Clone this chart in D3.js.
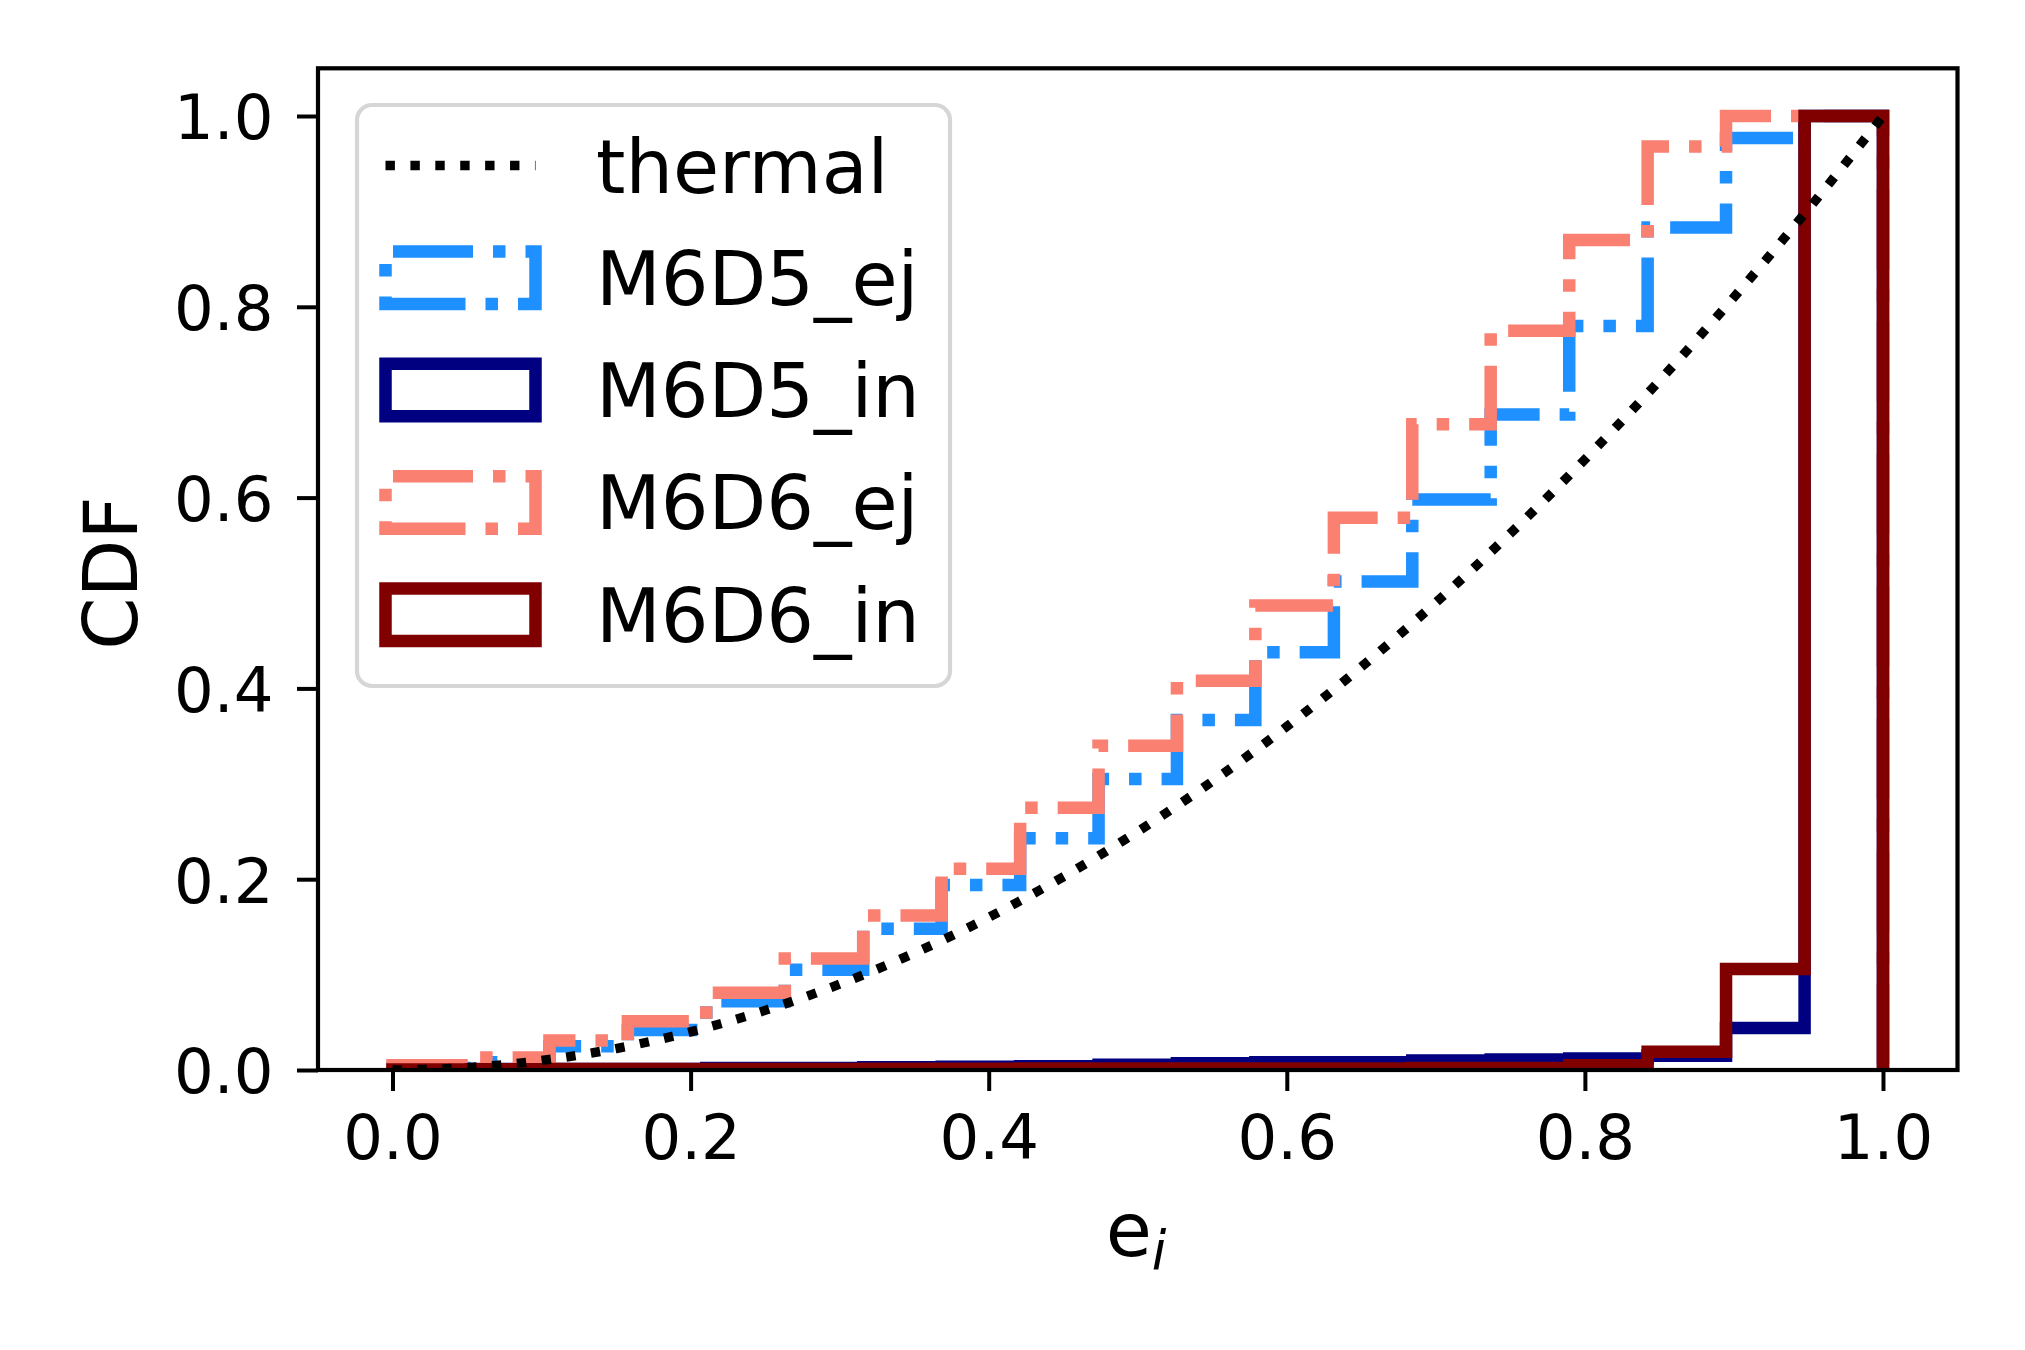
<!DOCTYPE html>
<html><head><meta charset="utf-8">
<script src="https://cdn.jsdelivr.net/npm/d3@7/dist/d3.min.js"></script>
<style>body{margin:0;background:#fff} svg text{font-family:"DejaVu Sans",sans-serif;fill:#000}</style>
</head><body>
<svg id="c" width="2025" height="1350"></svg>
<script>
// ---------- data ----------
const binEdges = [0, 0.0526, 0.1053, 0.1579, 0.2105, 0.2632, 0.3158, 0.3684, 0.4211, 0.4737,
                  0.5263, 0.5789, 0.6316, 0.6842, 0.7368, 0.7895, 0.8421, 0.8947, 0.9474, 1.0];
const m6d5_ej = [0.002, 0.008, 0.025, 0.042, 0.072, 0.105, 0.148, 0.194, 0.243, 0.305,
                 0.367, 0.438, 0.512, 0.598, 0.687, 0.780, 0.883, 0.977, 1.0];
const m6d5_in = [0.0005, 0.001, 0.001, 0.001, 0.002, 0.002, 0.003, 0.0035, 0.004, 0.0055,
                 0.007, 0.008, 0.008, 0.010, 0.011, 0.012, 0.015, 0.044, 1.0];
const m6d6_ej = [0.005, 0.013, 0.031, 0.051, 0.081, 0.117, 0.162, 0.211, 0.275, 0.340,
                 0.408, 0.487, 0.579, 0.677, 0.775, 0.870, 0.968, 1.0, 1.0];
const m6d6_in = [0.0005, 0.0008, 0.001, 0.001, 0.001, 0.001, 0.0012, 0.0014, 0.0015, 0.0015,
                 0.0015, 0.0015, 0.0015, 0.002, 0.002, 0.005, 0.019, 0.106, 1.0];
const thermalE   = [0, 0.05, 0.10, 0.15, 0.20, 0.25, 0.30, 0.35, 0.40, 0.45, 0.50,
                    0.55, 0.60, 0.65, 0.70, 0.75, 0.80, 0.85, 0.90, 0.95, 1.0];
const thermalCdf = [0, 0.0025, 0.010, 0.0225, 0.040, 0.0625, 0.090, 0.1225, 0.160, 0.2025, 0.250,
                    0.3025, 0.360, 0.4225, 0.490, 0.5625, 0.640, 0.7225, 0.810, 0.9025, 1.0];
const xTicks = [0, 0.2, 0.4, 0.6, 0.8, 1.0];
const yTicks = [0, 0.2, 0.4, 0.6, 0.8, 1.0];
const legendLabels = ["thermal", "M6D5_ej", "M6D5_in", "M6D6_ej", "M6D6_in"];

// ---------- layout ----------
const L = 318, R = 1957.5, T = 68.3, B = 1070;
const svg = d3.select("#c");
const x = d3.scaleLinear().domain([-0.05, 1.05]).range([L, R]);
const y = d3.scaleLinear().domain([0, 1.05]).range([B, T]);

svg.append("defs").append("clipPath").attr("id", "clip")
  .append("rect").attr("x", L).attr("y", T).attr("width", R - L).attr("height", B - T);

const HLW = 12.5;
const dashDot = [6.4, 1.6, 1, 1.6].map(d => d * HLW).join(",");
const series = [
  {vals: m6d5_ej, color: "#1E90FF", dash: dashDot},
  {vals: m6d5_in, color: "#000080", dash: null},
  {vals: m6d6_ej, color: "#FA8072", dash: dashDot},
  {vals: m6d6_in, color: "#800000", dash: null}
];

function stepPoints(vals) {
  const pts = [[binEdges[0], 0]];
  vals.forEach((v, i) => { pts.push([binEdges[i], v]); pts.push([binEdges[i + 1], v]); });
  pts.push([binEdges[binEdges.length - 1], 0]);
  return pts;
}
const line = d3.line().x(d => x(d[0])).y(d => y(d[1]));

const plot = svg.append("g").attr("clip-path", "url(#clip)");
series.forEach(s => {
  plot.append("path").attr("d", line(stepPoints(s.vals)))
    .attr("fill", "none").attr("stroke", s.color).attr("stroke-width", HLW)
    .attr("stroke-linejoin", "miter").attr("stroke-linecap", "butt")
    .attr("stroke-dasharray", s.dash);
});
const TLW = 9.4;
const dotted = [1, 1.65].map(d => d * TLW).join(",");
plot.append("path")
  .attr("d", d3.line().x((d, i) => x(thermalE[i])).y(d => y(d)).curve(d3.curveMonotoneX)(thermalCdf))
  .attr("fill", "none").attr("stroke", "#000").attr("stroke-width", TLW)
  .attr("stroke-dasharray", dotted).attr("stroke-linecap", "butt");

// ---------- axes ----------
const fmt = d3.format(".1f");
const gx = svg.append("g").attr("transform", `translate(0,${B})`)
  .call(d3.axisBottom(x).tickValues(xTicks).tickSize(21).tickPadding(23.5).tickFormat(fmt));
const gy = svg.append("g").attr("transform", `translate(${L},0)`)
  .call(d3.axisLeft(y).tickValues(yTicks).tickSize(21).tickPadding(23.5).tickFormat(fmt));
[gx, gy].forEach(g => {
  g.select(".domain").remove();
  g.selectAll(".tick line").attr("stroke", "#000").attr("stroke-width", 4);
  g.selectAll(".tick text").attr("font-size", 62.5).attr("font-family", "DejaVu Sans").attr("fill", "#000");
});
gy.selectAll(".tick text").attr("dy", "0.365em");
svg.append("rect").attr("x", L).attr("y", T).attr("width", R - L).attr("height", B - T)
  .attr("fill", "none").attr("stroke", "#000").attr("stroke-width", 4.2);

// axis labels
const xl = svg.append("text").attr("x", 1136).attr("y", 1256).attr("text-anchor", "middle")
  .attr("font-size", 75);
xl.append("tspan").text("e");
xl.append("tspan").attr("font-size", 52.5).attr("font-style", "italic").attr("dy", 13).text("i");
svg.append("text").attr("transform", "translate(137,573) rotate(-90)").attr("text-anchor", "middle")
  .attr("font-size", 75).text("CDF");

// ---------- legend ----------
const lg = svg.append("g");
lg.append("rect").attr("x", 357).attr("y", 105).attr("width", 593).attr("height", 581)
  .attr("rx", 15).attr("ry", 15).attr("fill", "#fff").attr("fill-opacity", 0.8)
  .attr("stroke", "#d6d6d6").attr("stroke-width", 4.2);
const rowY = i => 165.5 + i * 112.3;
const hx0 = 385.5, hx1 = 535.5, hh = 52.5;
lg.append("line").attr("x1", hx0).attr("x2", hx1).attr("y1", rowY(0)).attr("y2", rowY(0))
  .attr("stroke", "#000").attr("stroke-width", TLW).attr("stroke-dasharray", dotted);
series.forEach((s, i) => {
  const cy = rowY(i + 1), y0 = cy - hh / 2, y1 = cy + hh / 2;
  lg.append("path").attr("d", `M${hx0},${y1}H${hx1}V${y0}H${hx0}Z`)
    .attr("fill", "none").attr("stroke", s.color).attr("stroke-width", HLW)
    .attr("stroke-linejoin", "miter").attr("stroke-dasharray", s.dash);
});
legendLabels.forEach((t, i) => {
  lg.append("text").attr("x", 596).attr("y", rowY(i) + 27).attr("font-size", 75).text(t);
});
</script>
</body></html>
